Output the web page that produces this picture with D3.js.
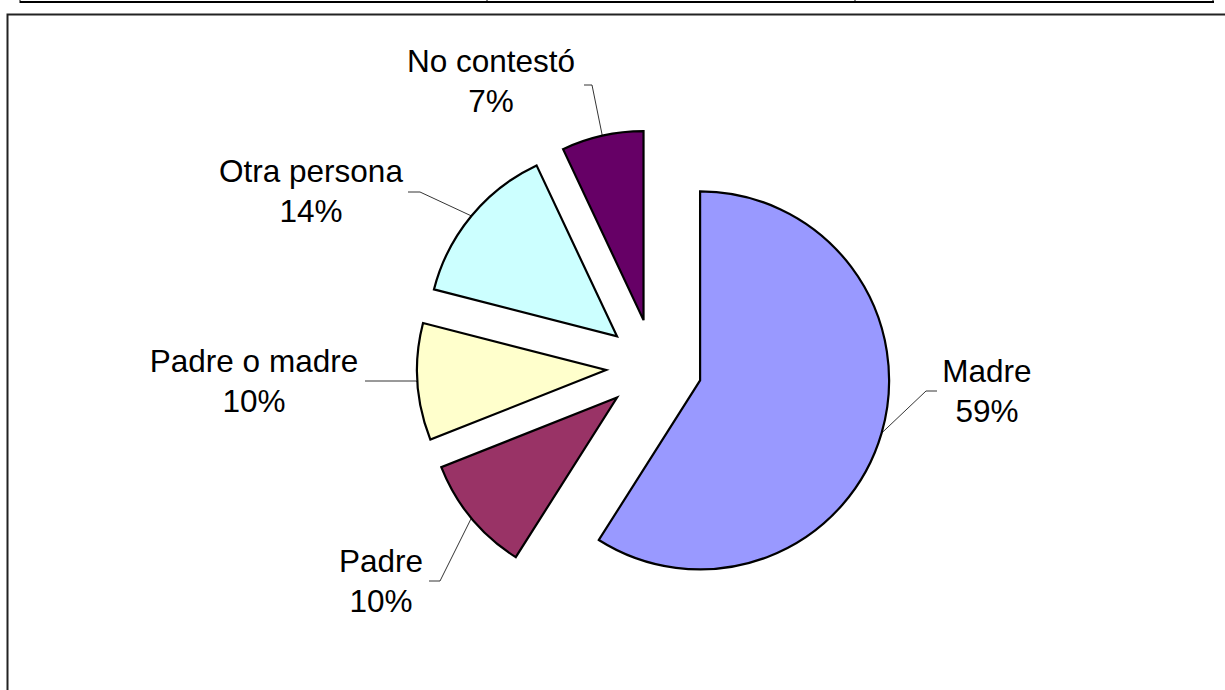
<!DOCTYPE html>
<html>
<head>
<meta charset="utf-8">
<script src="https://cdn.jsdelivr.net/npm/d3@7"></script>
<style>
  body { margin: 0; background: #fff; }
  svg { display: block; }
  text { font-family: "Liberation Sans", Arial, sans-serif; font-size: 31.5px; fill: #000; }
</style>
</head>
<body>
<script>
// data
var categories = ["Madre", "Padre", "Padre o madre", "Otra persona", "No contestó"];
var values = [59, 10, 10, 14, 7];
var colors = ["#9999ff", "#993366", "#ffffcc", "#ccffff", "#660066"];

// label layout (text centre x, first baseline y, leader elbow, leader end)
var labelLayout = {
  "Madre":         {x: 987, y: 382, elbow: [926, 391], end: [937, 391]},
  "Padre":         {x: 381, y: 572, elbow: [440, 581], end: [429, 581]},
  "Padre o madre": {x: 254, y: 372, elbow: [416, 381], end: [365, 381]},
  "Otra persona":  {x: 311, y: 182, elbow: [420, 192], end: [408, 192]},
  "No contestó":   {x: 491, y: 72,  elbow: [592, 85],  end: [584, 85]}
};

var width = 1225,
    height = 690,
    cx = 654, cy = 367,
    radius = 189,
    explode = 48;

var svg = d3.select("body").append("svg")
    .attr("width", width)
    .attr("height", height);

svg.append("rect").attr("width", width).attr("height", height).attr("fill", "#fff");

// bits of the table above the chart
svg.append("line")
    .attr("x1", 20).attr("x2", 1214).attr("y1", 2).attr("y2", 2)
    .attr("stroke", "#000").attr("stroke-width", 2);
[20, 487, 855, 1213].forEach(function(x) {
  svg.append("line")
      .attr("x1", x).attr("x2", x).attr("y1", 0).attr("y2", 3)
      .attr("stroke", "#000").attr("stroke-width", 1);
});

// chart frame
svg.append("path")
    .attr("d", "M7.5,690V14.5H1225")
    .attr("fill", "none")
    .attr("stroke", "#222")
    .attr("stroke-width", 2);

var data = categories.map(function(c, i) { return {name: c, value: values[i], color: colors[i]}; });

var pie = d3.pie()
    .sort(null)
    .value(function(d) { return d.value; });

var arc = d3.arc().innerRadius(0).outerRadius(radius);

var arcs = pie(data);

function offset(d) {
  var a = (d.startAngle + d.endAngle) / 2;
  return [Math.sin(a) * explode, -Math.cos(a) * explode];
}

var g = svg.append("g").attr("transform", "translate(" + cx + "," + cy + ")");

g.selectAll("path.slice")
    .data(arcs)
  .enter().append("path")
    .attr("class", "slice")
    .attr("d", arc)
    .attr("transform", function(d) { var o = offset(d); return "translate(" + o[0] + "," + o[1] + ")"; })
    .attr("fill", function(d) { return d.data.color; })
    .attr("stroke", "#000")
    .attr("stroke-width", 2.2)
    .attr("stroke-linejoin", "miter");

// leader lines
g.selectAll("path.leader")
    .data(arcs)
  .enter().append("path")
    .attr("class", "leader")
    .attr("fill", "none")
    .attr("stroke", "#000")
    .attr("stroke-width", 0.8)
    .attr("d", function(d) {
      var o = offset(d),
          a = (d.startAngle + d.endAngle) / 2,
          sx = cx + o[0] + Math.sin(a) * radius,
          sy = cy + o[1] - Math.cos(a) * radius,
          L = labelLayout[d.data.name];
      return "M" + (sx - cx) + "," + (sy - cy) +
             "L" + (L.elbow[0] - cx) + "," + (L.elbow[1] - cy) +
             "L" + (L.end[0] - cx) + "," + (L.end[1] - cy);
    });

// labels
var labels = svg.selectAll("text.lbl")
    .data(arcs)
  .enter().append("text")
    .attr("class", "lbl")
    .attr("text-anchor", "middle");

labels.append("tspan")
    .attr("x", function(d) { return labelLayout[d.data.name].x; })
    .attr("y", function(d) { return labelLayout[d.data.name].y; })
    .text(function(d) { return d.data.name; });

labels.append("tspan")
    .attr("x", function(d) { return labelLayout[d.data.name].x; })
    .attr("y", function(d) { return labelLayout[d.data.name].y + 40; })
    .text(function(d) { return d.data.value + "%"; });
</script>
</body>
</html>
